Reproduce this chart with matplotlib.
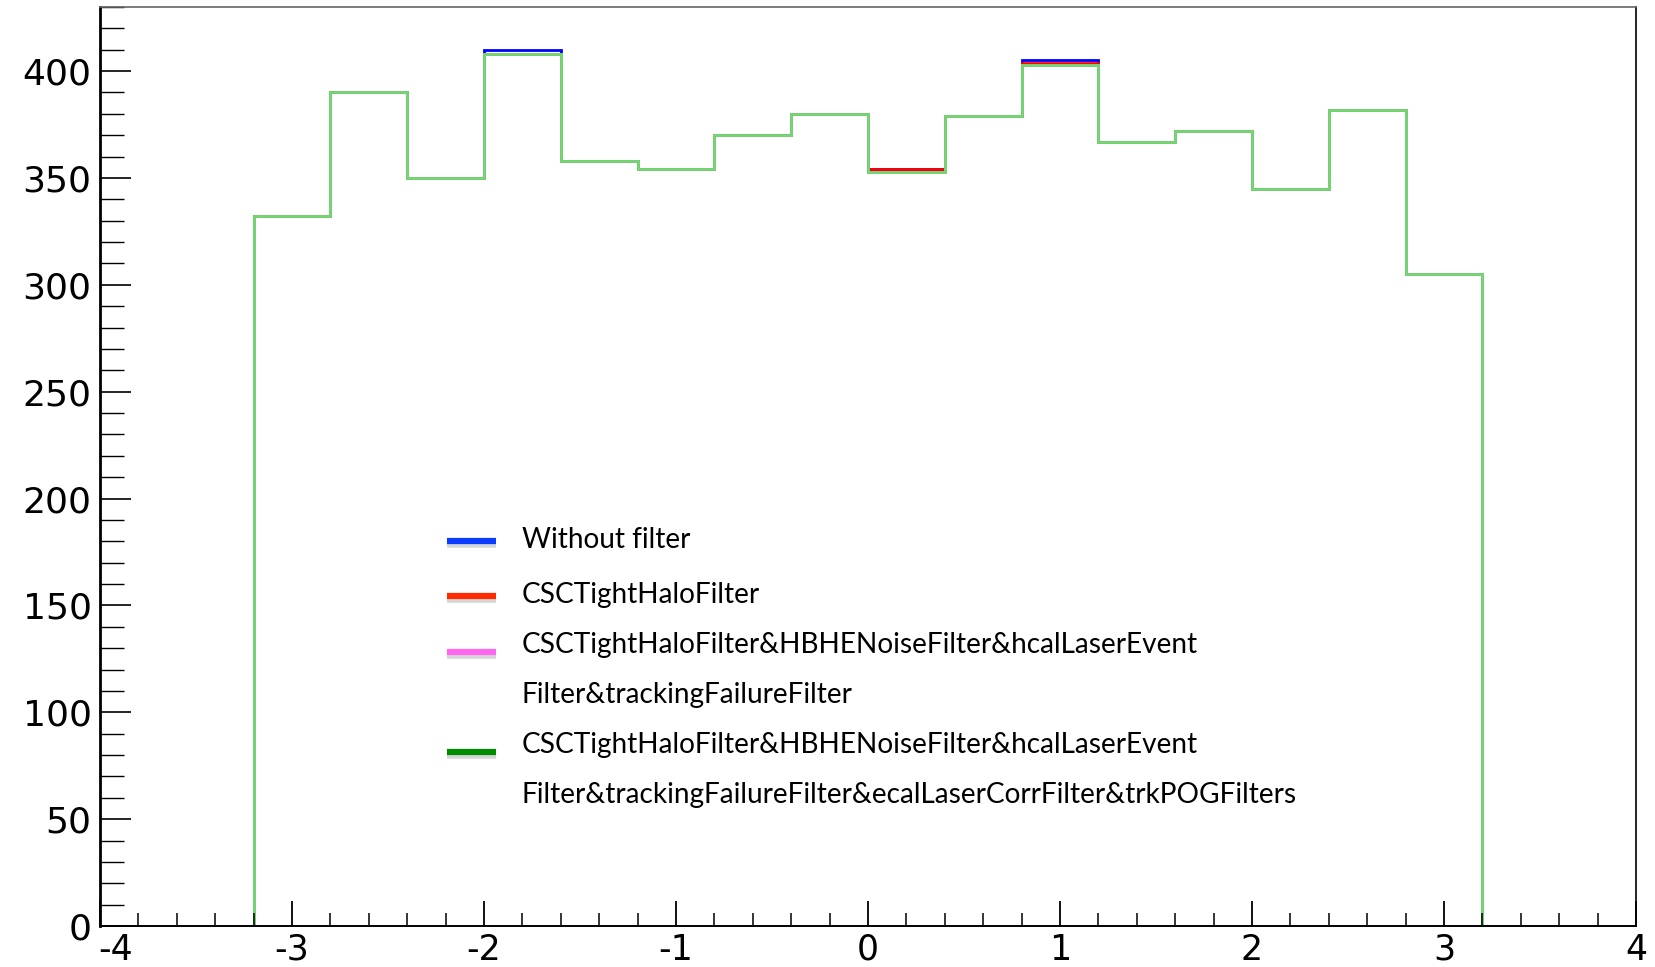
import numpy as np
import matplotlib
matplotlib.use("Agg")
import matplotlib.pyplot as plt
from matplotlib.lines import Line2D
from matplotlib.ticker import MultipleLocator
from matplotlib.transforms import ScaledTranslation

plt.rcParams["axes.unicode_minus"] = False

# bin edges: 20 bins of 0.4 from -4 to 4
edges = np.linspace(-4, 4, 21)

no_filter = [0, 0, 332, 390, 350, 410, 358, 354, 370, 380,
             354, 379, 405, 367, 372, 345, 382, 305, 0, 0]
csc_halo = [0, 0, 332, 390, 350, 408, 358, 354, 370, 380,
            354, 379, 404, 367, 372, 345, 382, 305, 0, 0]
csc_hbhe_hcal_trk = [0, 0, 332, 390, 350, 408, 358, 354, 370, 380,
                     353, 379, 403, 367, 372, 345, 382, 305, 0, 0]
all_filters = [0, 0, 332, 390, 350, 408, 358, 354, 370, 380,
               353, 379, 403, 367, 372, 345, 382, 305, 0, 0]

legend_labels = [
    "Without filter",
    "CSCTightHaloFilter",
    "CSCTightHaloFilter&HBHENoiseFilter&hcalLaserEvent\nFilter&trackingFailureFilter",
    "CSCTightHaloFilter&HBHENoiseFilter&hcalLaserEvent\n"
    "Filter&trackingFailureFilter&ecalLaserCorrFilter&trkPOGFilters",
]
legend_colors = ["#0a3cff", "#ff2a00", "#ff66ee", "#008a00"]
hist_colors = ["#0000ff", "#ff0000", "#ff44ee", "#6cdc6c"]

W, H = 1655, 967
fig = plt.figure(figsize=(W / 100, H / 100), dpi=100, facecolor="white")
ax = fig.add_axes([100 / W, (H - 926) / H, (1636 - 100) / W, (926 - 7) / H])

for vals, c in zip([no_filter, csc_halo, csc_hbhe_hcal_trk, all_filters], hist_colors):
    ax.stairs(vals, edges, color=c, lw=2.0, baseline=None)

ax.set_xlim(-4, 4)
ax.set_ylim(0, 430)

ax.xaxis.set_major_locator(MultipleLocator(1))
ax.xaxis.set_minor_locator(MultipleLocator(0.2))
ax.yaxis.set_major_locator(MultipleLocator(50))
ax.yaxis.set_minor_locator(MultipleLocator(10))

ax.tick_params(axis="x", which="major", direction="in", length=18, width=1.3,
               labelsize=25, pad=5, top=False)
ax.tick_params(axis="x", which="minor", direction="in", length=9.5, width=1.1, top=False)
ax.tick_params(axis="y", which="major", direction="in", length=22, width=1.2,
               labelsize=26, pad=6, right=False)
ax.tick_params(axis="y", which="minor", direction="in", length=17, width=1.0, right=False)

ax.spines["left"].set_linewidth(2.0)
ax.spines["bottom"].set_linewidth(1.4)
ax.spines["top"].set_linewidth(1.2)
ax.spines["top"].set_color("#666666")
ax.spines["right"].set_linewidth(1.2)

# hand-drawn legend (figure pixel positions)
marker_y = [541, 596, 652, 752]
text_y = [540, 595, 645, 745]
leg_font = ["Lato", "DejaVu Sans"]
for my, c in zip(marker_y, legend_colors):
    yy = (H - my) / H
    fig.add_artist(Line2D([447 / W, 496 / W], [yy - 4 / H, yy - 4 / H],
                          color="#bbbbbb", lw=4, alpha=0.6, solid_capstyle="butt"))
    fig.add_artist(Line2D([447 / W, 496 / W], [yy, yy], color=c, lw=4.5,
                          solid_capstyle="butt"))

for ty, lab in zip(text_y, legend_labels):
    for k, line in enumerate(lab.split("\n")):
        fig.text(522 / W, (H - ty - 50 * k) / H, line, ha="left", va="center",
                 fontsize=20.2, family=leg_font, color="black")

fig.canvas.draw()
for lab in ax.get_xticklabels() + ax.get_yticklabels():
    lab.set_family("DejaVu Sans")
# first x label sits to the right of its tick, as in the original
first = [t for t in ax.xaxis.get_major_ticks() if abs(t.get_loc() + 4) < 1e-9][0]
first.label1.set_transform(first.label1.get_transform()
                           + ScaledTranslation(11 / 72, 0, fig.dpi_scale_trans))

fig.savefig("out.png", dpi=100, facecolor="white")
